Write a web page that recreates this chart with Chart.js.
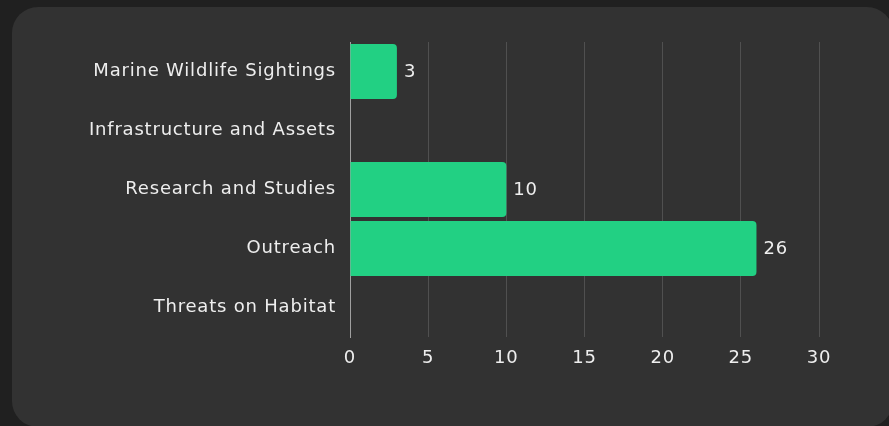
<!DOCTYPE html>
<html>
<head>
<meta charset="utf-8">
<script src="https://cdn.jsdelivr.net/npm/chart.js@4.4.1/dist/chart.umd.min.js"></script>
<style>
  html, body { margin: 0; padding: 0; background: #202020; width: 889px; height: 426px; overflow: hidden; }
  .card {
    position: absolute; left: 12px; top: 7px; width: 881px; height: 420px;
    background: #323232; border-radius: 26px;
  }
  .chart-box { position: absolute; left: 0; top: 0; width: 877px; height: 400px; }
</style>
</head>
<body>
<div class="card">
  <div class="chart-box"><canvas id="reportChart"></canvas></div>
</div>
<script>
// data kategori laporan
const categories = ['Marine Wildlife Sightings', 'Infrastructure and Assets', 'Research and Studies', 'Outreach', 'Threats on Habitat'];
const reportCounts = [3, 0, 10, 26, 0];
const xTicks = [0, 5, 10, 15, 20, 25, 30];

const FONT = "'DejaVu Sans', sans-serif";
const FONT_SIZE = 18;
const SPACING = '0.8px'; // biar lebarnya mirip Poppins

// spasi huruf untuk semua teks di canvas
const letterSpacingPlugin = {
  id: 'letterSpacing',
  beforeDraw(chart) { chart.ctx.letterSpacing = SPACING; }
};

// label angka di ujung bar (pengganti datalabels)
const barValueLabels = {
  id: 'barValueLabels',
  afterDatasetsDraw(chart) {
    const ctx = chart.ctx;
    const meta = chart.getDatasetMeta(0);
    ctx.save();
    ctx.letterSpacing = SPACING;
    ctx.font = `${FONT_SIZE}px ${FONT}`;
    ctx.fillStyle = '#eeeeee';
    ctx.textAlign = 'left';
    ctx.textBaseline = 'middle';
    meta.data.forEach((bar, i) => {
      const v = chart.data.datasets[0].data[i];
      if (!v) return;
      ctx.fillText(String(v), bar.x + 7, bar.y + 1);
    });
    ctx.restore();
  }
};

const ctx = document.getElementById('reportChart').getContext('2d');
new Chart(ctx, {
  type: 'bar',
  data: {
    labels: categories,
    datasets: [{
      data: reportCounts,
      backgroundColor: '#22d083',
      borderRadius: 4,
      barPercentage: 0.93,
      categoryPercentage: 1
    }]
  },
  options: {
    indexAxis: 'y',
    responsive: true,
    maintainAspectRatio: false,
    animation: false,
    layout: { padding: { left: 0, right: 70, top: 35, bottom: 30 } },
    plugins: {
      legend: { display: false },
      tooltip: { enabled: false }
    },
    scales: {
      x: {
        min: 0,
        max: 30,
        afterBuildTicks: (scale) => { scale.ticks = xTicks.map(v => ({ value: v })); },
        afterFit: (scale) => { scale.height = 40; },
        grid: { color: '#505050', drawTicks: false },
        border: { display: false },
        ticks: { color: '#eeeeee', padding: 11, font: { family: FONT, size: FONT_SIZE } }
      },
      y: {
        afterFit: (scale) => { scale.width = 338; },
        grid: { display: false, drawTicks: false },
        border: { display: true, color: '#a0a0a0', width: 1 },
        ticks: { color: '#eeeeee', padding: 14, font: { family: FONT, size: FONT_SIZE } }
      }
    }
  },
  plugins: [letterSpacingPlugin, barValueLabels]
});
</script>
</body>
</html>
